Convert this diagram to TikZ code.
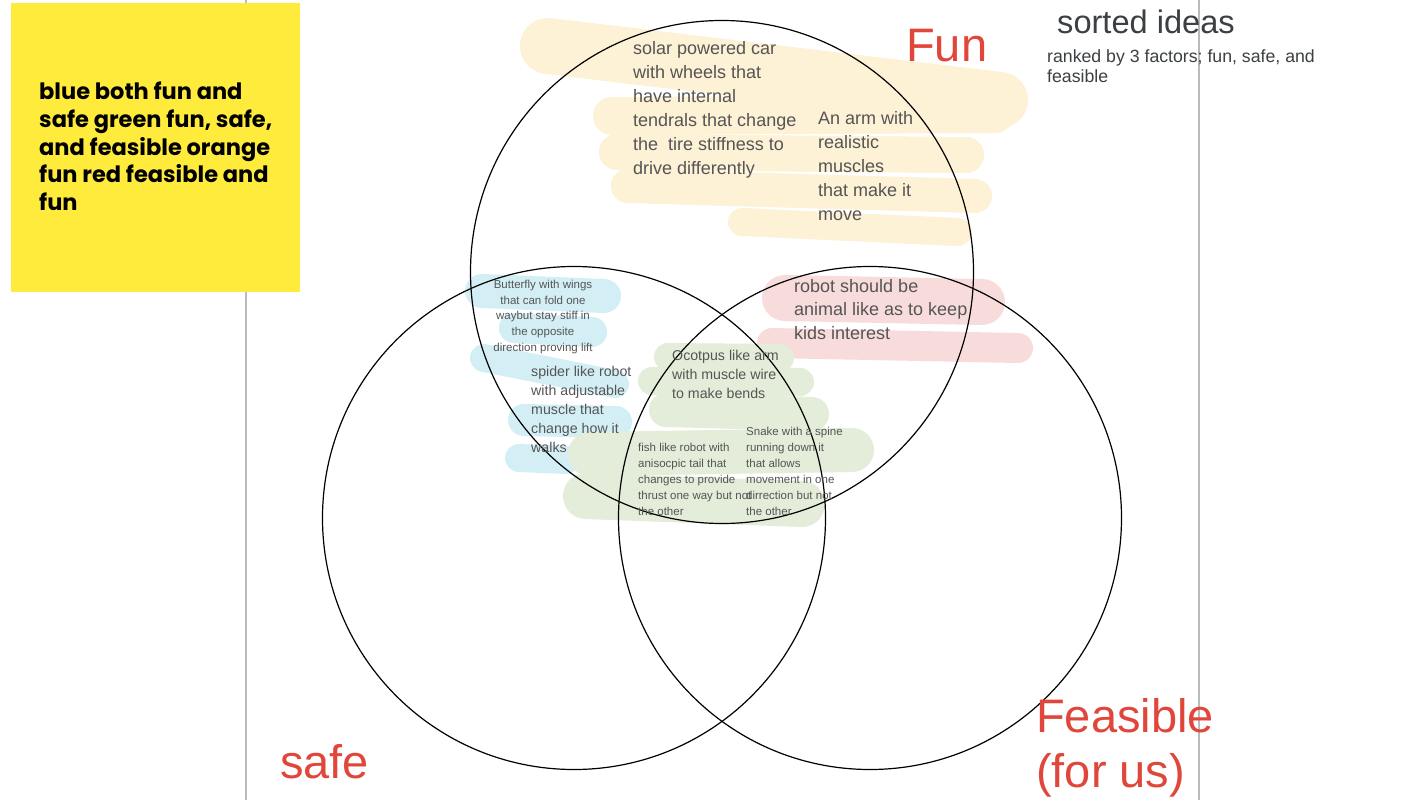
\documentclass[tikz,border=0pt]{standalone}
\usepackage{fontspec}
\setmainfont{Liberation Sans}
\newfontfamily\notefont{Poppins}
\usetikzlibrary{positioning}

\definecolor{inkgray}{HTML}{555555}
\definecolor{titlegray}{HTML}{3C4043}
\definecolor{labelred}{HTML}{E0463A}
\definecolor{noteyellow}{HTML}{FFEB3B}
\definecolor{paintorange}{HTML}{FDF1D6}
\definecolor{paintblue}{HTML}{D3EFF5}
\definecolor{paintgreen}{HTML}{E3EDD9}
\definecolor{paintred}{HTML}{F8DCDC}

\begin{document}
\begin{tikzpicture}
[
	                x = 1pt,
	                y = -1pt,
	       ring/.style = { draw=black, circle, line width=1.2pt, inner sep=0pt, minimum size=503pt },
	      paint/.style = { line cap=round, line join=round },
	       idea/.style = { anchor=north west, inner sep=0pt, align=left, text=inkgray, font=\fontsize{18}{24}\selectfont },
	  smallidea/.style = { idea, font=\fontsize{14.2}{19}\selectfont },
	   tinyidea/.style = { idea, font=\fontsize{11.5}{15.7}\selectfont },
	   setlabel/.style = { anchor=north west, inner sep=0pt, align=left, text=labelred, font=\fontsize{47}{50}\selectfont }
]
	\useasboundingbox (0,0) rectangle (1422,800);
	\fill [white] (0,0) rectangle (1422,800);

	% page edges
	\draw [black!27, line width=1.5pt] (246,0) -- (246,800);
	\draw [black!27, line width=1.5pt] (1199,0) -- (1199,800);

	% sticky note
	\node (note) at (11,3) [anchor=north west, fill=noteyellow, minimum width=289pt, minimum height=289pt, inner sep=0pt] {};
	\node (notetext) at (39,82) [anchor=north west, inner sep=0pt, align=left, font=\notefont\bfseries\fontsize{22.5}{27.6}\selectfont]
		{blue both fun and\\safe green fun, safe,\\and feasible orange\\fun red feasible and\\fun};

	% paint for fun only
	\draw [paint, paintorange, line width=56pt] (548,46) -- (1000,100);
	\draw [paint, paintorange, line width=38pt] (612,116) -- (995,114);
	\draw [paint, paintorange, line width=36pt] (617,152) -- (966,155);
	\draw [paint, paintorange, line width=34pt] (628,186) -- (975,196);
	\draw [paint, paintorange, line width=28pt] (742,222) -- (958,232);

	% paint for fun and feasible
	\draw [paint, paintred, line width=46pt] (785,298) -- (982,302);
	\draw [paint, paintred, line width=30pt] (772,343) -- (1018,348);

	% paint for fun and safe
	\draw [paint, paintblue, line width=34pt] (482,291) -- (604,296);
	\draw [paint, paintblue, line width=30pt] (514,328) -- (592,332);
	\draw [paint, paintblue, line width=28pt] (484,358) -- (615,384);
	\draw [paint, paintblue, line width=32pt] (524,420) -- (616,422);
	\draw [paint, paintblue, line width=28pt] (519,458) -- (566,460);

	% paint for all three
	\draw [paint, paintgreen, line width=28pt] (668,357) -- (780,358);
	\draw [paint, paintgreen, line width=28pt] (652,381) -- (800,382);
	\draw [paint, paintgreen, line width=34pt] (666,410) -- (812,414);
	\draw [paint, paintgreen, line width=44pt] (590,454) -- (852,450);
	\draw [paint, paintgreen, line width=46pt] (586,496) -- (802,504);

	% the three sets
	\node (funring)  at (722,272) [ring] {};
	\node (safering) at (574,518) [ring] {};
	\node (feasring) at (870,518) [ring] {};

	\node (fun)  at (906,29)  [setlabel] {Fun};
	\node (safe) at (280,744) [setlabel] {safe};
	\node (feas) at (1036,698) [setlabel, font=\fontsize{47}{55}\selectfont] {Feasible\\(for us)};

	% title
	\node (title)  at (1057,10) [anchor=north west, inner sep=0pt, text=titlegray, font=\fontsize{32.6}{34}\selectfont] {sorted ideas};
	\node (ranked) at (1047,49) [anchor=north west, inner sep=0pt, align=left, text=titlegray, font=\fontsize{17.7}{20.5}\selectfont]
		{ranked by 3 factors; fun, safe, and\\feasible};

	% ideas
	\node (solar)  at (633,41)  [idea] {solar powered car\\with wheels that\\have internal\\tendrals that change\\the \ tire stiffness to\\drive differently};
	\node (arm)    at (818,111) [idea] {An arm with\\realistic\\muscles\\that make it\\move};
	\node (robot)  at (794,279) [idea, font=\fontsize{18}{23.5}\selectfont] {robot should be\\animal like as to keep\\kids interest};
	\node (fly)    at (543,280) [tinyidea, anchor=north, align=center] {Butterfly with wings\\that can fold one\\waybut stay stiff in\\the opposite\\direction proving lift};
	\node (spider) at (531,366) [smallidea] {spider like robot\\with adjustable\\muscle that\\change how it\\walks};
	\node (octo)   at (672,350) [smallidea] {Ocotpus like arm\\with muscle wire\\to make bends};
	\node (fish)   at (638,443) [tinyidea, font=\fontsize{11.5}{16}\selectfont] {fish like robot with\\anisocpic tail that\\changes to provide\\thrust one way but not\\the other};
	\node (snake)  at (746,427) [tinyidea, font=\fontsize{11.5}{16}\selectfont] {Snake with a spine\\running down it\\that allows\\movement in one\\dirrection but not\\the other};

\end{tikzpicture}
\end{document}
